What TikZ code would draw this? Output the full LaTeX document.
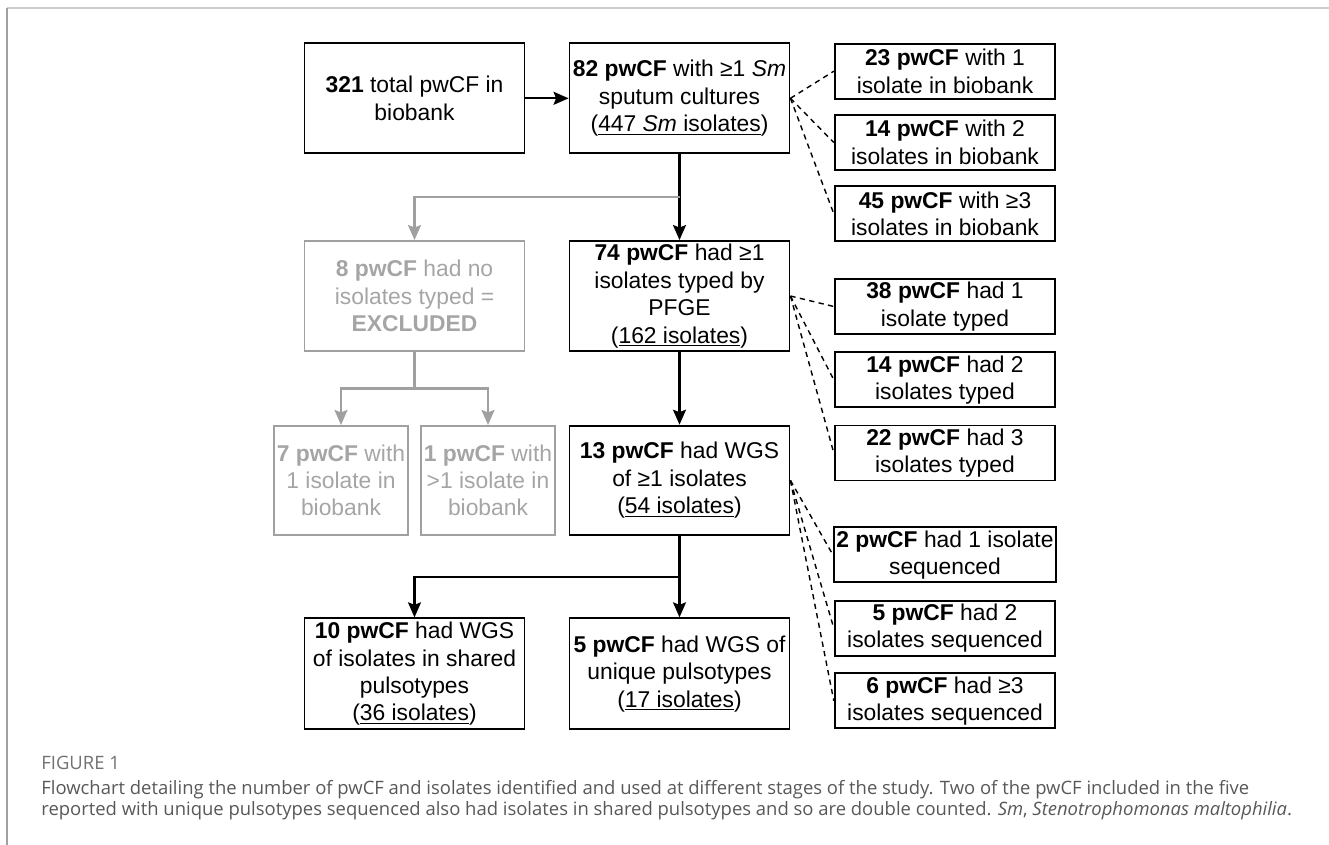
\documentclass[tikz,border=0pt]{standalone}
\usepackage{fontspec}
\setmainfont{Liberation Sans}
\newfontfamily\capfont{Open Sans}
\usepackage{tikz}
\usetikzlibrary{arrows.meta,calc}
\definecolor{boxgrey}{RGB}{160,160,160}
\definecolor{textgrey}{RGB}{165,165,165}
\definecolor{capgrey}{RGB}{88,88,88}
\definecolor{rulegrey}{RGB}{204,204,204}

\begin{document}
\begin{tikzpicture}[x=0.02cm, y=-0.02cm,
    every node/.style={font=\fontsize{13}{15.6}\selectfont, align=center, inner sep=1.5pt},
    mainbox/.style={draw, line width=1.1pt, minimum width=4.4cm, minimum height=2.2cm},
    sidebox/.style={draw, line width=1.1pt, minimum width=4.41cm, minimum height=1.1cm},
    greybox/.style={draw=boxgrey, text=textgrey, line width=1.1pt, minimum height=2.18cm},
    flow/.style={-{Stealth[length=0.3cm,width=0.26cm,inset=0.05cm]}, line width=1.2pt},
    greyflow/.style={flow, boxgrey},
    link/.style={line width=0.8pt, dash pattern=on 3pt off 2.5pt},
    caption/.style={anchor=west, inner sep=0pt, text=capgrey, font=\capfont\fontsize{10.5}{12}\selectfont}]
  \useasboundingbox (0,0) rectangle (1329,845);
  % Page frame
  \draw[rulegrey, line width=1.1pt] (7,8) -- (1329,8);
  \draw[boxgrey, line width=0.6pt] (7,8) -- (7,845);

  % Main column
  \node[mainbox] (total) at (414.5,98.3) {\textbf{321} total pwCF in\\biobank};
  \node[mainbox] (cult) at (679.5,98.3) {\textbf{82 pwCF} with ≥1 \textit{Sm}\\sputum cultures\\(\underline{447 \textit{Sm} isolates})};
  \node[mainbox] (pfge) at (679.5,296) {\textbf{74 pwCF} had ≥1\\isolates typed by\\PFGE\\(\underline{162 isolates})};
  \node[mainbox, minimum height=2.19cm] (wgs) at (679.5,480.4) {\textbf{13 pwCF} had WGS\\of ≥1 isolates\\(\underline{54 isolates})};
  \node[mainbox, minimum height=2.22cm] (shared) at (414.5,673.8) {\textbf{10 pwCF} had WGS\\of isolates in shared\\pulsotypes\\(\underline{36 isolates})};
  \node[mainbox, minimum height=2.22cm] (unique) at (679.5,673.8) {\textbf{5 pwCF} had WGS of\\unique pulsotypes\\(\underline{17 isolates})};

  % Excluded branch
  \node[greybox, minimum width=4.4cm, minimum height=2.2cm] (excl) at (414.5,296) {\textbf{8 pwCF} had no\\isolates typed =\\\textbf{EXCLUDED}};
  \node[greybox, minimum width=2.56cm] (exone) at (341,480.4) {\textbf{7 pwCF} with\\1 isolate in\\biobank};
  \node[greybox, minimum width=2.56cm] (exmore) at (488,480.4) {\textbf{1 pwCF} with\\>1 isolate in\\biobank};

  % Side counts
  \node[sidebox] (c1) at (945,71.2) {\textbf{23 pwCF} with 1\\isolate in biobank};
  \node[sidebox] (c2) at (945,142.5) {\textbf{14 pwCF} with 2\\isolates in biobank};
  \node[sidebox] (c3) at (945,213.8) {\textbf{45 pwCF} with ≥3\\isolates in biobank};
  \node[sidebox] (t1) at (945,306.5) {\textbf{38 pwCF} had 1\\isolate typed};
  \node[sidebox] (t2) at (945,379.8) {\textbf{14 pwCF} had 2\\isolates typed};
  \node[sidebox] (t3) at (945,453) {\textbf{22 pwCF} had 3\\isolates typed};
  \node[sidebox] (s1) at (945,554.8) {\textbf{2 pwCF} had 1 isolate\\sequenced};
  \node[sidebox] (s2) at (945,628.2) {\textbf{5 pwCF} had 2\\isolates sequenced};
  \node[sidebox] (s3) at (945,700.8) {\textbf{6 pwCF} had ≥3\\isolates sequenced};

  % Flow arrows
  \draw[flow] (total) -- (cult);
  \draw[flow] (cult) -- (pfge);
  \draw[flow] (pfge) -- (wgs);
  \coordinate (cutsplit) at ($(cult.south)!0.5!(pfge.north)$);
  \draw[greyflow] (cutsplit) -| (excl.north);
  \coordinate (exsplit) at ($(excl.south)!0.5!(excl.south |- exone.north)$);
  \draw[boxgrey, line width=1.2pt] (excl.south) -- (exsplit);
  \draw[greyflow] (exsplit) -| (exone.north);
  \draw[greyflow] (exsplit) -| (exmore.north);
  \coordinate (wgssplit) at ($(wgs.south)!0.5!(unique.north)$);
  \draw[flow] (wgs) -- (unique);
  \draw[flow] (wgssplit) -| (shared.north);

  % Dashed links to the counts
  \foreach \n in {c1,c2,c3} \draw[link] (cult.east) -- (\n.west);
  \foreach \n in {t1,t2,t3} \draw[link] (pfge.east) -- (\n.west);
  \foreach \n in {s1,s2,s3} \draw[link] (wgs.east) -- (\n.west);

  % Caption
  \node[caption, text=capgrey!85] (fig) at (41,763) {FIGURE 1};
  \node[caption] (cap1) at (41,790) {Flowchart detailing the number of pwCF and isolates identified and used at different stages of the study. Two of the pwCF included in the five};
  \node[caption] (cap2) at (41,810.5) {reported with unique pulsotypes sequenced also had isolates in shared pulsotypes and so are double counted. \textit{Sm}, \textit{Stenotrophomonas maltophilia}.};
\end{tikzpicture}
\end{document}
